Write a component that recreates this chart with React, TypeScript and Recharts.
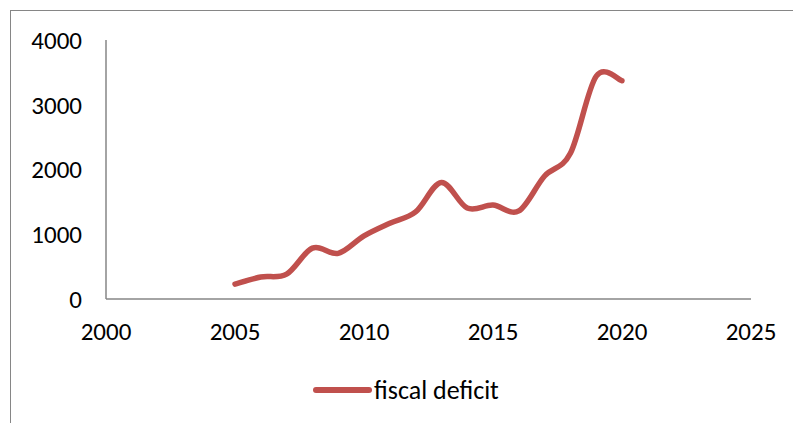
import React from 'react';
import { LineChart, Line, XAxis, YAxis } from 'recharts';

// values
const years = [2005, 2006, 2007, 2008, 2009, 2010, 2011, 2012, 2013, 2014, 2015, 2016, 2017, 2018, 2019, 2020];
const deficit = [230, 340, 385, 785, 705, 975, 1170, 1345, 1800, 1405, 1450, 1360, 1900, 2250, 3440, 3370];
const xTicks = [2000, 2005, 2010, 2015, 2020, 2025];
const yTicks = [0, 1000, 2000, 3000, 4000];

const data = years.map((y, i) => ({ year: y, value: deficit[i] }));

const FONT = 'Carlito, Lato, "Open Sans", sans-serif';
const RED = '#C0504D';
const AXIS = '#868686';

// Excel-like smoothed line (Catmull-Rom through the points)
function excelSmooth(context: any) {
    let pts: number[][] = [];
    return {
        areaStart() {},
        areaEnd() {},
        lineStart() { pts = []; },
        point(x: number, y: number) { pts.push([+x, +y]); },
        lineEnd() {
            if (!pts.length) return;
            context.moveTo(pts[0][0], pts[0][1]);
            for (let i = 0; i < pts.length - 1; i++) {
                const p0 = pts[i - 1] || pts[i];
                const p1 = pts[i];
                const p2 = pts[i + 1];
                const p3 = pts[i + 2] || p2;
                context.bezierCurveTo(
                    p1[0] + (p2[0] - p0[0]) / 6, p1[1] + (p2[1] - p0[1]) / 6,
                    p2[0] - (p3[0] - p1[0]) / 6, p2[1] - (p3[1] - p1[1]) / 6,
                    p2[0], p2[1]
                );
            }
        },
    };
}

export default function App() {
    return (
        <div style={{ position: 'absolute', left: 0, top: 0, width: 793, height: 423, overflow: 'hidden', background: '#fff' }}>
            <div style={{ position: 'absolute', left: 10, top: 10, width: 820, height: 450, border: `1px solid ${AXIS}` }} />
            <LineChart width={793} height={423} data={data} margin={{ top: 40, right: 42, bottom: 94, left: 0 }}>
                <XAxis
                    dataKey="year"
                    type="number"
                    domain={[2000, 2025]}
                    ticks={xTicks}
                    tickLine={false}
                    axisLine={{ stroke: AXIS, strokeWidth: 1.5 }}
                    tickMargin={17}
                    tick={{ fill: '#000', fontSize: 25, fontFamily: FONT }}
                    interval={0}
                />
                <YAxis
                    type="number"
                    domain={[0, 4000]}
                    ticks={yTicks}
                    width={106}
                    tickLine={false}
                    axisLine={{ stroke: AXIS, strokeWidth: 1.5 }}
                    tickMargin={18}
                    tick={{ fill: '#000', fontSize: 25, fontFamily: FONT }}
                    interval={0}
                />
                <Line
                    dataKey="value"
                    name="fiscal deficit"
                    type={excelSmooth as any}
                    stroke={RED}
                    strokeWidth={5.5}
                    strokeLinecap="round"
                    dot={false}
                    activeDot={false}
                    isAnimationActive={false}
                />
            </LineChart>
            <div style={{ position: 'absolute', left: 312, top: 374, height: 32, display: 'flex', alignItems: 'center', fontFamily: FONT, fontSize: 26, color: '#000' }}>
                <svg width={60} height={10}>
                    <line x1={4} y1={5} x2={57} y2={5} stroke={RED} strokeWidth={6} strokeLinecap="round" />
                </svg>
                <span style={{ marginLeft: 2 }}>fiscal deficit</span>
            </div>
        </div>
    );
}
